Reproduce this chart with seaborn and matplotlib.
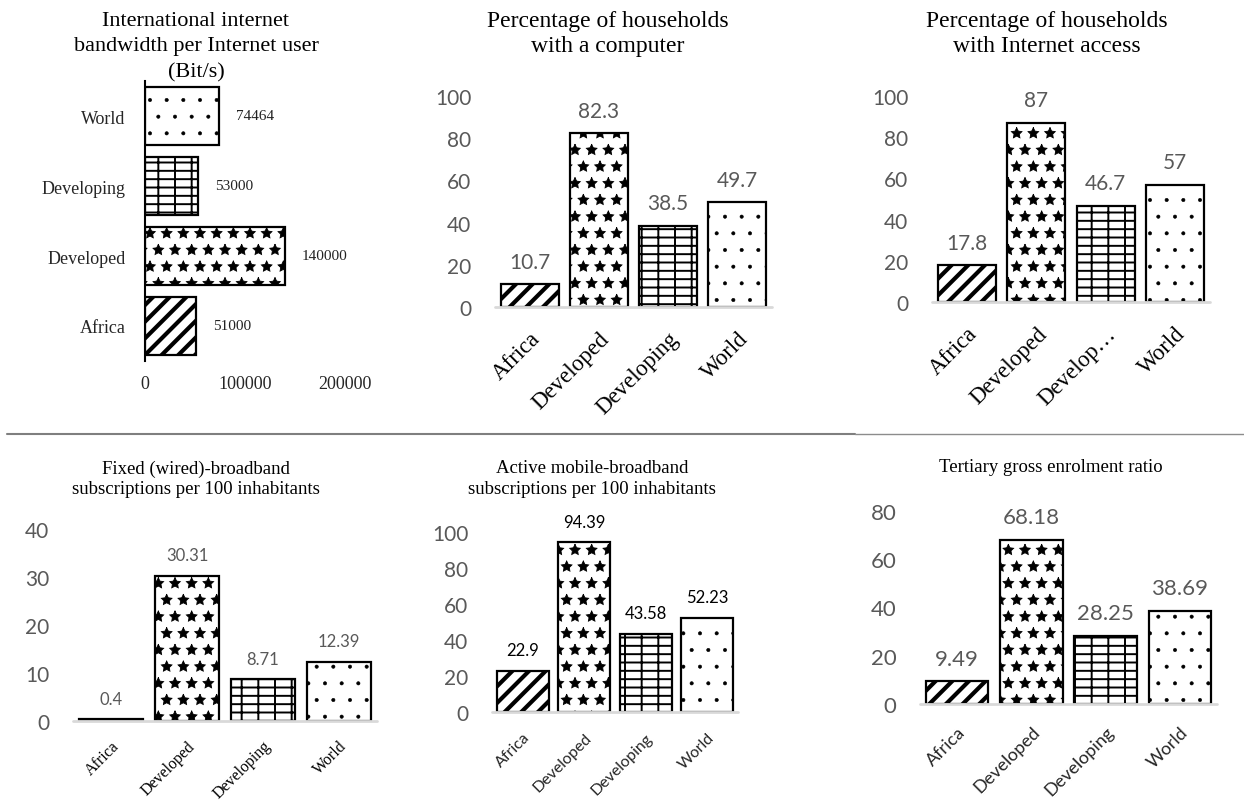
import matplotlib
matplotlib.use("Agg")
import matplotlib.pyplot as plt
from matplotlib.lines import Line2D
import seaborn as sns

# === DATI ===
regions = ["Africa", "Developed", "Developing", "World"]
hatches = ["//", "*", "--|", "."]
hatch_lw = [3.0, 0.6, 1.4, 0.4]

bandwidth_order = ["World", "Developing", "Developed", "Africa"]
bandwidth = [74464, 53000, 140000, 51000]

hh_computer = [10.7, 82.3, 38.5, 49.7]
hh_internet = [17.8, 87, 46.7, 57]
internet_labels = ["Africa", "Developed", "Develop…", "World"]
fixed_bb = [0.4, 30.31, 8.71, 12.39]
mobile_bb = [22.9, 94.39, 43.58, 52.23]
tertiary = [9.49, 68.18, 28.25, 38.69]

W, H = 1244, 803
SERIF = "Liberation Serif"
SANS = "Lato"
GRAY = "#595959"

sns.set_theme(style="white")
plt.rcParams["font.family"] = [SANS, "DejaVu Sans"]
plt.rcParams["hatch.linewidth"] = 1.3
plt.rcParams["hatch.color"] = "black"

fig = plt.figure(figsize=(W / 100, H / 100), dpi=100)


def box(left, right, top, bottom):
    return [left / W, 1 - bottom / H, (right - left) / W, (bottom - top) / H]


def apply_hatch(ax, order):
    for patch, cat in zip(ax.patches, order):
        i = regions.index(cat)
        patch.set_hatch(hatches[i])
        patch.set_facecolor("white")
        patch.set_edgecolor("black")
        if hasattr(patch, "set_hatch_linewidth"):
            patch.set_hatch_linewidth(hatch_lw[i])


def title(x, y, text, size, ls):
    fig.text(x / W, 1 - y / H, text, ha="center", va="center",
             fontsize=size, family=SERIF, linespacing=ls, color="black")


def vbar(rect, values, ymax, step, labels, tick_size, val_size, val_color,
         cat_size, cat_family, cat_color, cat_pad):
    ax = fig.add_axes(box(*rect))
    sns.barplot(x=regions, y=values, color="white", edgecolor="black",
                linewidth=1.6, width=0.84, ax=ax)
    apply_hatch(ax, regions)
    ax.set_xlim(-0.5, 3.5)
    ax.set_ylim(0, ymax)
    ax.set_yticks(range(0, ymax + 1, step))
    ax.tick_params(axis="y", length=0, pad=17, labelsize=tick_size, labelcolor=GRAY)
    ax.tick_params(axis="x", length=0, pad=cat_pad)
    ax.set_xticks(range(4))
    ax.set_xticklabels(labels, rotation=45, ha="right", rotation_mode="anchor",
                       fontsize=cat_size, family=cat_family, color=cat_color)
    for lab in ax.get_yticklabels():
        lab.set_family(SANS)
    ax.axhline(0, color="#d9d9d9", lw=2, zorder=5, clip_on=False)
    ax.bar_label(ax.containers[0], fmt="{:g}", padding=9, fontsize=val_size,
                 color=val_color, family=SANS)
    sns.despine(ax=ax, left=True, bottom=True)
    ax.set_xlabel("")
    ax.set_ylabel("")
    return ax


# === International bandwidth (barre orizzontali) ===
ax0 = fig.add_axes(box(145, 345, 82, 362))
sns.barplot(x=bandwidth, y=bandwidth_order, orient="h", color="white",
            edgecolor="black", linewidth=1.6, width=0.83, ax=ax0)
apply_hatch(ax0, bandwidth_order)
ax0.set_xlim(0, 200000)
ax0.set_xticks([0, 100000, 200000])
ax0.set_xticklabels(["0", "100000", "200000"], fontsize=13, family=SERIF)
ax0.set_yticklabels(bandwidth_order, fontsize=13, family=SERIF)
ax0.tick_params(axis="x", length=0, pad=10)
ax0.tick_params(axis="y", length=0, pad=14)
ax0.bar_label(ax0.containers[0], fmt="{:g}", padding=12, fontsize=11,
              family=SERIF, color="#222222")
sns.despine(ax=ax0, top=True, right=True, bottom=True)
ax0.spines["left"].set_color("black")
ax0.spines["left"].set_linewidth(1.5)
ax0.set_xlabel("")
ax0.set_ylabel("")
title(196, 47, "International internet\nbandwidth per Internet user\n(Bit/s)", 16, 1.48)

# === Households with a computer ===
vbar((495, 772, 97, 308), hh_computer, 100, 20, regions, 15, 15, GRAY,
     16.5, SERIF, "black", 15)
title(608, 34, "Percentage of households\nwith a computer", 17, 1.3)

# === Households with Internet access ===
vbar((932, 1210, 97, 303), hh_internet, 100, 20, internet_labels, 15, 15, GRAY,
     16.5, SERIF, "black", 15)
title(1047, 34, "Percentage of households\nwith Internet access", 17, 1.3)

# === Fixed broadband ===
vbar((73, 377, 530, 722), fixed_bb, 40, 10, regions, 15, 12, GRAY,
     11.5, SERIF, "black", 12)
title(196, 479, "Fixed (wired)-broadband\nsubscriptions per 100 inhabitants", 13.5, 1.25)

# === Mobile broadband ===
vbar((492, 738, 533, 713), mobile_bb, 100, 20, regions, 15, 12, "black",
     11.5, SANS, "#262626", 13)
title(592, 479, "Active mobile-broadband\nsubscriptions per 100 inhabitants", 13.5, 1.25)

# === Tertiary enrolment ===
vbar((920, 1217, 512, 705), tertiary, 80, 20, regions, 16, 16, GRAY,
     13, SANS, "#262626", 14)
title(1051, 468, "Tertiary gross enrolment ratio", 13.5, 1.2)

# linee di separazione
fig.add_artist(Line2D([7 / W, 855 / W], [1 - 435 / H] * 2, color="#7f7f7f", lw=1.5))
fig.add_artist(Line2D([855 / W, 1244 / W], [1 - 435 / H] * 2, color="#8c8c8c", lw=1.0))

fig.savefig("out.png", dpi=100, facecolor="white")
